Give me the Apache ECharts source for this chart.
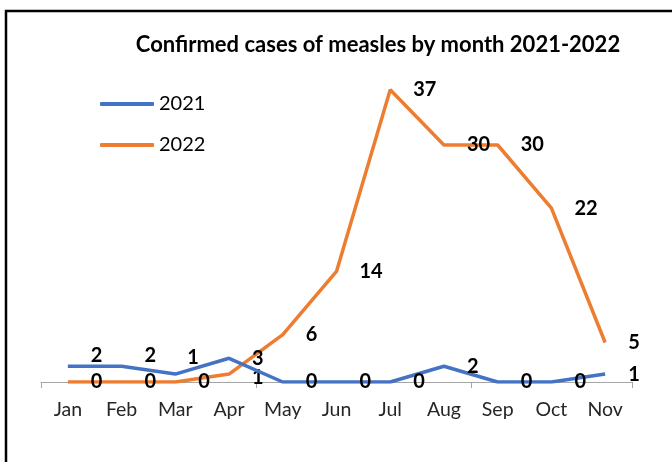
<!DOCTYPE html>
<html>
<head>
<meta charset="utf-8">
<script src="https://cdn.jsdelivr.net/npm/echarts@6/dist/echarts.min.js"></script>
<style>
html,body{margin:0;padding:0;background:#fff;}
#chart{width:672px;height:462px;}
</style>
</head>
<body>
<div id="chart"></div>
<script>
const months = ['Jan','Feb','Mar','Apr','May','Jun','Jul','Aug','Sep','Oct','Nov'];
const cases2021 = [2, 2, 1, 3, 0, 0, 0, 2, 0, 0, 1];
const cases2022 = [0, 0, 0, 1, 6, 14, 37, 30, 30, 22, 5];
const seriesNames = ['2021', '2022'];

// label tweaks (style only)
const offsets2021 = {0: [0, -11], 1: [0, -11], 2: [-11, -17]};
const offsets2022 = {3: [0, 3]};

const FONT = 'Lato';
function build(values, offs) {
  return values.map((v, i) => offs[i] ? {value: v, label: {offset: offs[i]}} : v);
}
const labelStyle = {
  show: true, position: 'right', distance: 23,
  fontFamily: FONT, fontWeight: 'bold', fontSize: 20, color: '#000'
};

const chart = echarts.init(document.getElementById('chart'));
chart.setOption({
  backgroundColor: '#fff',
  animation: false,
  graphic: [{
    type: 'rect', shape: {x: 6, y: 11, width: 720, height: 520},
    style: {fill: 'none', stroke: '#000', lineWidth: 2.5}, z: 100
  }],
  title: {
    text: 'Confirmed cases of measles by month 2021-2022',
    left: 373, top: 29, textAlign: 'center',
    textStyle: {fontFamily: FONT, fontWeight: 'bold', fontSize: 22, color: '#000'}
  },
  legend: {
    orient: 'vertical', left: 95, top: 89,
    itemWidth: 54, itemHeight: 4, itemGap: 21, icon: 'roundRect',
    textStyle: {fontFamily: FONT, fontSize: 20, color: '#000'},
    data: seriesNames
  },
  grid: {left: 41, right: 40, top: 66, bottom: 80},
  xAxis: {
    type: 'category', data: months, boundaryGap: true,
    axisLine: {lineStyle: {color: '#A6A6A6', width: 1}},
    axisTick: {show: true, interval: 3, length: 6, lineStyle: {color: '#A6A6A6'}},
    axisLabel: {interval: 0, margin: 18, fontFamily: FONT, fontSize: 19.5, color: '#262626'}
  },
  yAxis: {
    type: 'value', min: 0, max: 40, show: false,
    splitLine: {show: false}
  },
  series: [
    {
      name: seriesNames[0], type: 'line', data: build(cases2021, offsets2021),
      symbol: 'circle', symbolSize: 0, showSymbol: true,
      lineStyle: {color: '#4472C4', width: 3.5},
      itemStyle: {color: '#4472C4'},
      label: labelStyle, z: 3
    },
    {
      name: seriesNames[1], type: 'line', data: build(cases2022, offsets2022),
      symbol: 'circle', symbolSize: 0, showSymbol: true,
      lineStyle: {color: '#ED7D31', width: 3.5},
      itemStyle: {color: '#ED7D31'},
      label: labelStyle, z: 2
    }
  ]
});
</script>
</body>
</html>
